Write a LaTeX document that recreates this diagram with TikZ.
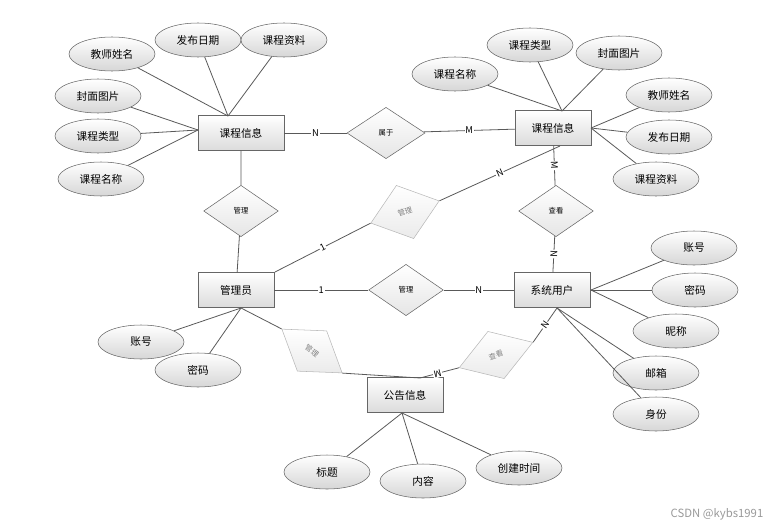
\documentclass[tikz,border=0pt]{standalone}
\usepackage{fontspec}
\setmainfont{Noto Sans CJK SC}
\usepackage{tikz}
\usetikzlibrary{shapes.geometric, shadows}

\begin{document}
\begin{tikzpicture}[x=0.75pt, y=-0.75pt,
   entity/.style={draw=black!60, top color=white, bottom color=black!14,
      minimum width=57pt, minimum height=26pt, inner sep=0pt,
      font=\fontsize{8}{9}\selectfont,
      drop shadow={opacity=0.25, shadow xshift=0.8pt, shadow yshift=-0.8pt}},
   attr/.style={ellipse, draw=black!60, top color=white, bottom color=black!16,
      minimum width=64.5pt, minimum height=25.5pt, inner sep=0pt,
      font=\fontsize{8}{9}\selectfont},
   rel/.style={diamond, draw=black!60, top color=white, bottom color=black!10,
      minimum width=56pt, minimum height=38.5pt, inner sep=0pt,
      font=\fontsize{5.5}{6}\selectfont},
   ghost/.style={rel, draw=black!28, bottom color=black!8, text=black!50},
   link/.style={draw=black!65, line width=0.6pt},
   card/.style={fill=white, inner sep=0.6pt, font=\fontsize{7}{8}\selectfont}]
   \useasboundingbox (0,0) rectangle (780,528);

   % entities
   \node[entity, minimum width=64.5pt] (lk) at (241,133) {课程信息};
   \node[entity] (rk) at (553,128) {课程信息};
   \node[entity] (gly) at (236,290) {管理员};
   \node[entity] (xt) at (552,290) {系统用户};
   \node[entity] (gg) at (405,395) {公告信息};

   % relations
   \node[rel, minimum width=58.5pt] (sy) at (386,133) {属于};
   \node[rel] (gl1) at (241,211) {管理};
   \node[rel] (ck) at (556,211) {查看};
   \node[rel] (gl2) at (406,290) {管理};
   \node[ghost, rotate=18, minimum width=54pt, minimum height=42pt] (gl3) at (405,212) {管理};
   \node[ghost, rotate=-36, minimum width=56pt, minimum height=37.5pt] (gl4) at (312,351) {管理};
   \node[ghost, rotate=19, minimum width=58.5pt, minimum height=37.5pt] (ck2) at (496,355) {查看};

   % attributes of the left course
   \node[attr] (la1) at (112,54) {教师姓名};
   \node[attr] (la2) at (198,40) {发布日期};
   \node[attr] (la3) at (284,40) {课程资料};
   \node[attr] (la4) at (98,96) {封面图片};
   \node[attr] (la5) at (98,136) {课程类型};
   \node[attr] (la6) at (101,179) {课程名称};
   % attributes of the right course
   \node[attr] (ra1) at (455,74) {课程名称};
   \node[attr] (ra2) at (530,45) {课程类型};
   \node[attr] (ra3) at (619,53) {封面图片};
   \node[attr] (ra4) at (669,95) {教师姓名};
   \node[attr] (ra5) at (669,137) {发布日期};
   \node[attr] (ra6) at (656,179) {课程资料};
   % attributes of the admin, user and notice
   \node[attr] (ga1) at (141,342) {账号};
   \node[attr] (ga2) at (198,370) {密码};
   \node[attr] (xa1) at (694,248) {账号};
   \node[attr] (xa2) at (695,290) {密码};
   \node[attr] (xa3) at (676,331) {昵称};
   \node[attr] (xa4) at (656,373) {邮箱};
   \node[attr] (xa5) at (656,414) {身份};
   \node[attr] (ba1) at (327,472) {标题};
   \node[attr] (ba2) at (423,481) {内容};
   \node[attr] (ba3) at (519,468) {创建时间};

   \coordinate (lkt) at (228,116);
   \coordinate (lkl) at (198,130);
   \coordinate (rkt) at (562,111);
   \coordinate (rkr) at (591,128);
   \coordinate (rkb) at (560,146);
   \coordinate (xtr) at (591,290);
   \coordinate (xtb) at (557,308);
   \coordinate (glyb) at (241,308);
   \coordinate (glyt) at (275,272);
   \coordinate (ggt) at (420,378);
   \coordinate (ggb) at (402,413);

   \foreach \a in {la1,la2,la3} \draw[link] (lkt) -- (\a);
   \foreach \a in {la4,la5,la6} \draw[link] (lkl) -- (\a);
   \foreach \a in {ra1,ra2,ra3} \draw[link] (rkt) -- (\a);
   \foreach \a in {ra4,ra5,ra6} \draw[link] (rkr) -- (\a);
   \foreach \a in {xa1,xa2,xa3} \draw[link] (xtr) -- (\a);
   \foreach \a in {xa4,xa5} \draw[link] (xtb) -- (\a);
   \foreach \a in {ga1,ga2} \draw[link] (glyb) -- (\a);
   \foreach \a in {ba1,ba2,ba3} \draw[link] (ggb) -- (\a);

   \draw[link] (lk) -- node[card] {N} (sy);
   \draw[link] (sy) -- node[card] {M} (rk);
   \draw[link] (lk) -- (gl1) -- (gly);
   \draw[link] (gly) -- node[card] {1} (gl2);
   \draw[link] (gl2) -- node[card] {N} (xt);
   \draw[link] (ck) -- node[card, sloped] {M} (rk);
   \draw[link] (ck) -- node[card, sloped] {N} (xt);
   \draw[link] (glyt) -- node[card, sloped] {1} (gl3.west);
   \draw[link] (gl3.east) -- node[card, sloped] {N} (rkb);
   \draw[link] (glyb) -- (gl4.west);
   \draw[link] (gl4.east) -- (ggt);
   \draw[link] (ck2.east) -- node[card, sloped] {N} (xtb);
   \draw[link] (ck2.west) -- node[card, sloped, allow upside down, pos=0.55] {M} (ggt);

   \node[text=black!40, font=\fontsize{8.5}{9}\selectfont] (wm) at (717,514) {CSDN @kybs1991};
\end{tikzpicture}
\end{document}
